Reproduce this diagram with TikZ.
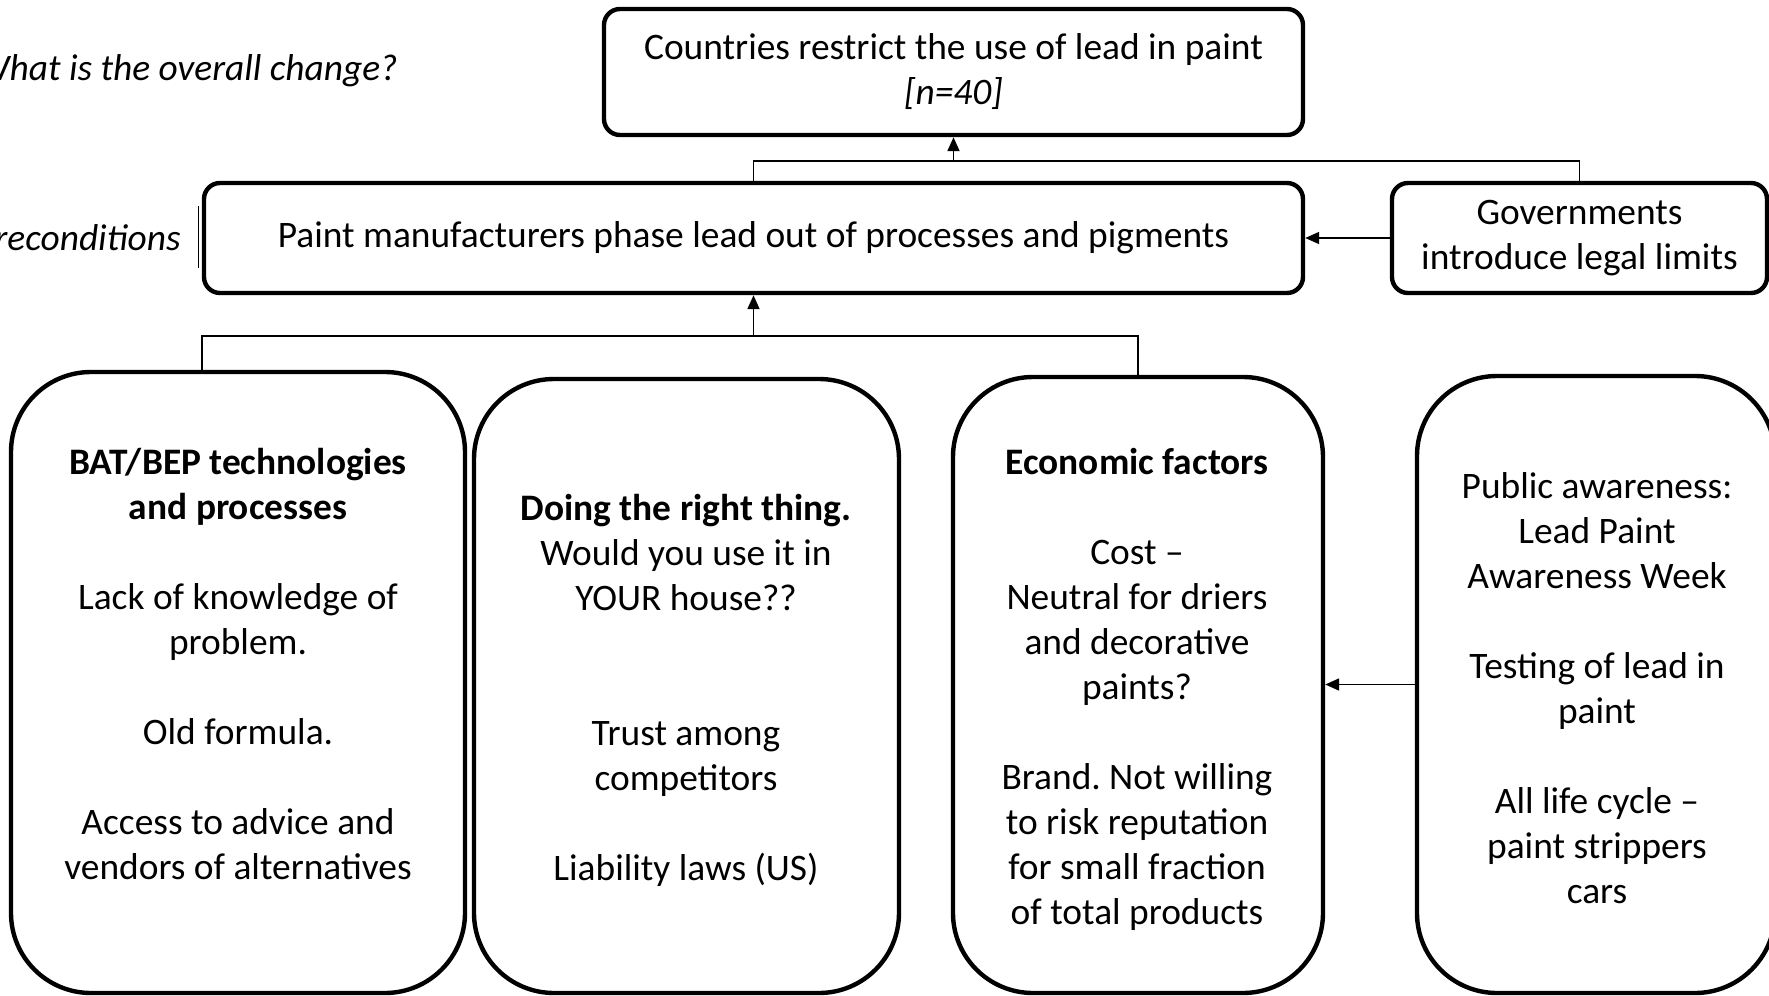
\documentclass[tikz,border=0pt]{standalone}
\usepackage{fontspec}
\setmainfont{Carlito}
\frenchspacing
\usetikzlibrary{arrows.meta}
\begin{document}
\begin{tikzpicture}[x=0.5pt,y=-0.5pt,
  box/.style={draw,line width=2.2pt,rounded corners=8pt,inner sep=0pt},
  bigbox/.style={draw,line width=2.2pt,rounded corners=40pt,inner sep=0pt},
  txt/.style={align=center,font=\fontsize{18.7}{22.5}\selectfont,inner sep=0pt},
  conn/.style={line width=0.8pt},
  arr/.style={line width=0.9pt,-{Triangle[length=7pt,width=6pt]}}]
\clip (0,0) rectangle (1769,996);
\fill[white] (0,0) rectangle (1769,996);
% top row
\node[box,txt,minimum width=349.5pt,minimum height=63pt] (top) at (953.5,72)
  {Countries restrict the use of lead in paint\\\textit{[n=40]}};
\node[box,txt,minimum width=549.5pt,minimum height=55pt] (mid) at (753.5,238)
  {Paint manufacturers phase lead out of processes and pigments};
\node[box,txt,minimum width=187.5pt,minimum height=55pt] (gov) at (1579.5,238)
  {Governments\\introduce legal limits};
\node[txt,font=\fontsize{18.7}{22.5}\selectfont\itshape,anchor=east] (q1) at (398,71) {What is the overall change?};
\node[txt,font=\fontsize{18.7}{22.5}\selectfont\itshape,anchor=east] (q2) at (181,238) {Preconditions};
\draw[line width=0.4pt] (mid.west) ++(-3,-32) coordinate (s1) -- ++(0,62) coordinate (s2);
% bottom boxes
\node[bigbox,minimum width=227pt,minimum height=310.5pt] (b1) at (238,682.5) {};
\node[bigbox,minimum width=212.5pt,minimum height=307pt] (b2) at (686.5,686) {};
\node[bigbox,minimum width=185pt,minimum height=308pt] (b3) at (1138,685) {};
\node[bigbox,minimum width=179pt,minimum height=308.5pt] (b4) at (1596,684.5) {};
\node[txt] (t1) at (238,664) {\textbf{BAT/BEP technologies}\\\textbf{and processes}\\[22.5pt]
  Lack of knowledge of\\problem.\\[22.5pt]Old formula.\\[22.5pt]Access to advice and\\vendors of alternatives};
\node[txt] (t2) at (686,690) {\textbf{Doing the right thing.}\\Would you use it in\\YOUR house??\\[45pt]
  Trust among\\competitors\\[22.5pt]Liability laws (US)};
\node[txt] (t3) at (1137,689) {\textbf{Economic factors}\\[22.5pt]Cost --\\Neutral for driers\\and decorative\\paints?\\[22.5pt]
  Brand. Not willing\\to risk reputation\\for small fraction\\of total products};
\node[txt] (t4) at (1597,688) {Public awareness:\\Lead Paint\\Awareness Week\\[22.5pt]Testing of lead in\\paint\\[22.5pt]
  All life cycle --\\paint strippers\\cars};
% connectors
\path (top.south) ++(0,24) coordinate (jt);
\draw[conn] (mid.north) -- (mid.north |- jt) -- (gov.north |- jt) -- (gov.north);
\draw[arr] (jt) -- (top.south);
\draw[arr] (gov.west) -- (mid.east);
\path (mid.south) ++(0,41) coordinate (jb);
\draw[conn] (b1.north -| mid.west) -- (jb -| mid.west) -- (jb -| b3.north) -- (b3.north);
\draw[arr] (jb) -- (mid.south);
\draw[arr] (b4.west) -- (b4.west -| b3.east);
\end{tikzpicture}
\end{document}
